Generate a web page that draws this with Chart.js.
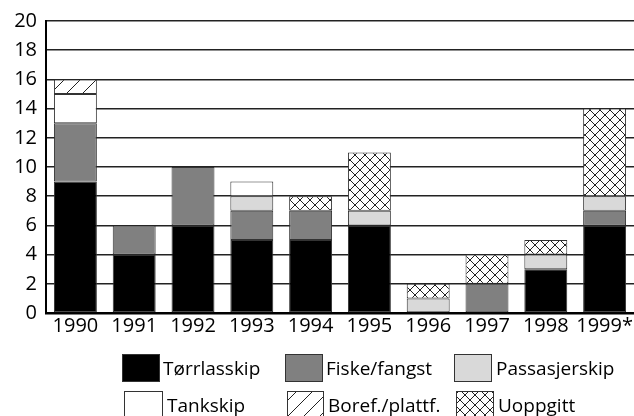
<!DOCTYPE html>
<html>
<head>
<meta charset="utf-8">
<script src="https://cdn.jsdelivr.net/npm/chart.js@4/dist/chart.umd.min.js"></script>
<style>
  html, body { margin: 0; padding: 0; background: #fff; }
  #wrap { width: 634px; height: 416px; }
</style>
</head>
<body>
<div id="wrap"><canvas id="barChart" width="634" height="416"></canvas></div>
<script>
// kategorier og verdier
var years = ['1990', '1991', '1992', '1993', '1994', '1995', '1996', '1997', '1998', '1999*'];
var seriesNames = ['Tørrlasskip', 'Fiske/fangst', 'Passasjerskip', 'Tankskip', 'Boref./plattf.', 'Uoppgitt'];
var torrlasskip = [9, 4, 6, 5, 5, 6, 0, 0, 3, 6];
var fiske = [4, 2, 4, 2, 2, 0, 0, 2, 0, 1];
var passasjer = [0, 0, 0, 1, 0, 1, 1, 0, 1, 1];
var tankskip = [2, 0, 0, 1, 0, 0, 0, 0, 0, 0];
var boref = [1, 0, 0, 0, 0, 0, 0, 0, 0, 0];
var uoppgitt = [0, 0, 0, 0, 1, 4, 1, 2, 1, 6];
var yTicks = [0, 2, 4, 6, 8, 10, 12, 14, 16, 18, 20];

var FONT = '"Open Sans", "Noto Sans", sans-serif';

// skravur-mønstre
function makePattern(size, draw) {
  var c = document.createElement('canvas');
  c.width = size; c.height = size;
  var g = c.getContext('2d');
  g.fillStyle = '#fff';
  g.fillRect(0, 0, size, size);
  g.strokeStyle = '#222';
  g.lineWidth = 1;
  draw(g, size);
  return g.createPattern(c, 'repeat');
}
var ctx = document.getElementById('barChart').getContext('2d');
var diagPattern = makePattern(16, function (g, s) {
  g.beginPath();
  g.moveTo(0, s); g.lineTo(s, 0);
  g.moveTo(-1, 1); g.lineTo(1, -1);
  g.moveTo(s - 1, s + 1); g.lineTo(s + 1, s - 1);
  g.stroke();
});
var crossPattern = makePattern(10, function (g, s) {
  g.beginPath();
  g.moveTo(0, 0); g.lineTo(s, s);
  g.moveTo(0, s); g.lineTo(s, 0);
  g.stroke();
});

var colors = ['#000000', '#808080', '#d9d9d9', '#ffffff', diagPattern, crossPattern];
var values = [torrlasskip, fiske, passasjer, tankskip, boref, uoppgitt];

var datasets = seriesNames.map(function (name, i) {
  return {
    label: name,
    data: values[i],
    backgroundColor: colors[i],
    borderColor: '#333',
    // ingen kantlinje på tomme segmenter
    borderWidth: function (c) { return c.raw ? 1 : 0; },
    borderSkipped: false,
    barPercentage: 0.73,
    categoryPercentage: 1.0
  };
});

// egen tegnforklaring i to rader
var legendPos = [
  { x: 122, y: 354, w: 37, tx: 163 },
  { x: 285, y: 354, w: 37, tx: 326 },
  { x: 454, y: 354, w: 37, tx: 496 },
  { x: 124, y: 391, w: 38, tx: 167 },
  { x: 287, y: 391, w: 36, tx: 328 },
  { x: 456, y: 391, w: 37, tx: 498 }
];
var legendPlugin = {
  id: 'gridLegend',
  afterDraw: function (chart) {
    var c = chart.ctx;
    c.save();
    c.font = '19px ' + FONT;
    c.textBaseline = 'alphabetic';
    c.textAlign = 'left';
    chart.data.datasets.forEach(function (ds, i) {
      var p = legendPos[i];
      c.fillStyle = ds.backgroundColor;
      c.fillRect(p.x, p.y, p.w, 27);
      c.strokeStyle = '#333';
      c.lineWidth = 1;
      c.strokeRect(p.x + 0.5, p.y + 0.5, p.w, 27);
      c.fillStyle = '#000';
      c.fillText(ds.label, p.tx, p.y + 21);
    });
    c.restore();
  }
};

var options = {
  responsive: false,
  animation: false,
  layout: { padding: { top: 20, right: 0, bottom: 77, left: 0 } },
  plugins: {
    legend: { display: false },
    tooltip: { enabled: false }
  },
  scales: {
    x: {
      stacked: true,
      grid: { display: false, drawTicks: false },
      border: { display: true, color: '#000', width: 2.5 },
      ticks: { color: '#000', font: { family: FONT, size: 20 }, padding: 1, maxRotation: 0, autoSkip: false },
      afterFit: function (scale) { scale.height = 26; }
    },
    y: {
      stacked: true,
      min: 0,
      max: 20,
      afterBuildTicks: function (scale) {
        scale.ticks = yTicks.map(function (v) { return { value: v }; });
      },
      grid: { color: '#222', lineWidth: 1.5, drawTicks: false },
      border: { display: true, color: '#000', width: 2 },
      ticks: { color: '#000', font: { family: FONT, size: 20 }, padding: 9 },
      afterFit: function (scale) { scale.width = 46; }
    }
  }
};

var barChart = new Chart(ctx, {
  type: 'bar',
  data: { labels: years, datasets: datasets },
  options: options,
  plugins: [legendPlugin]
});
</script>
</body>
</html>
